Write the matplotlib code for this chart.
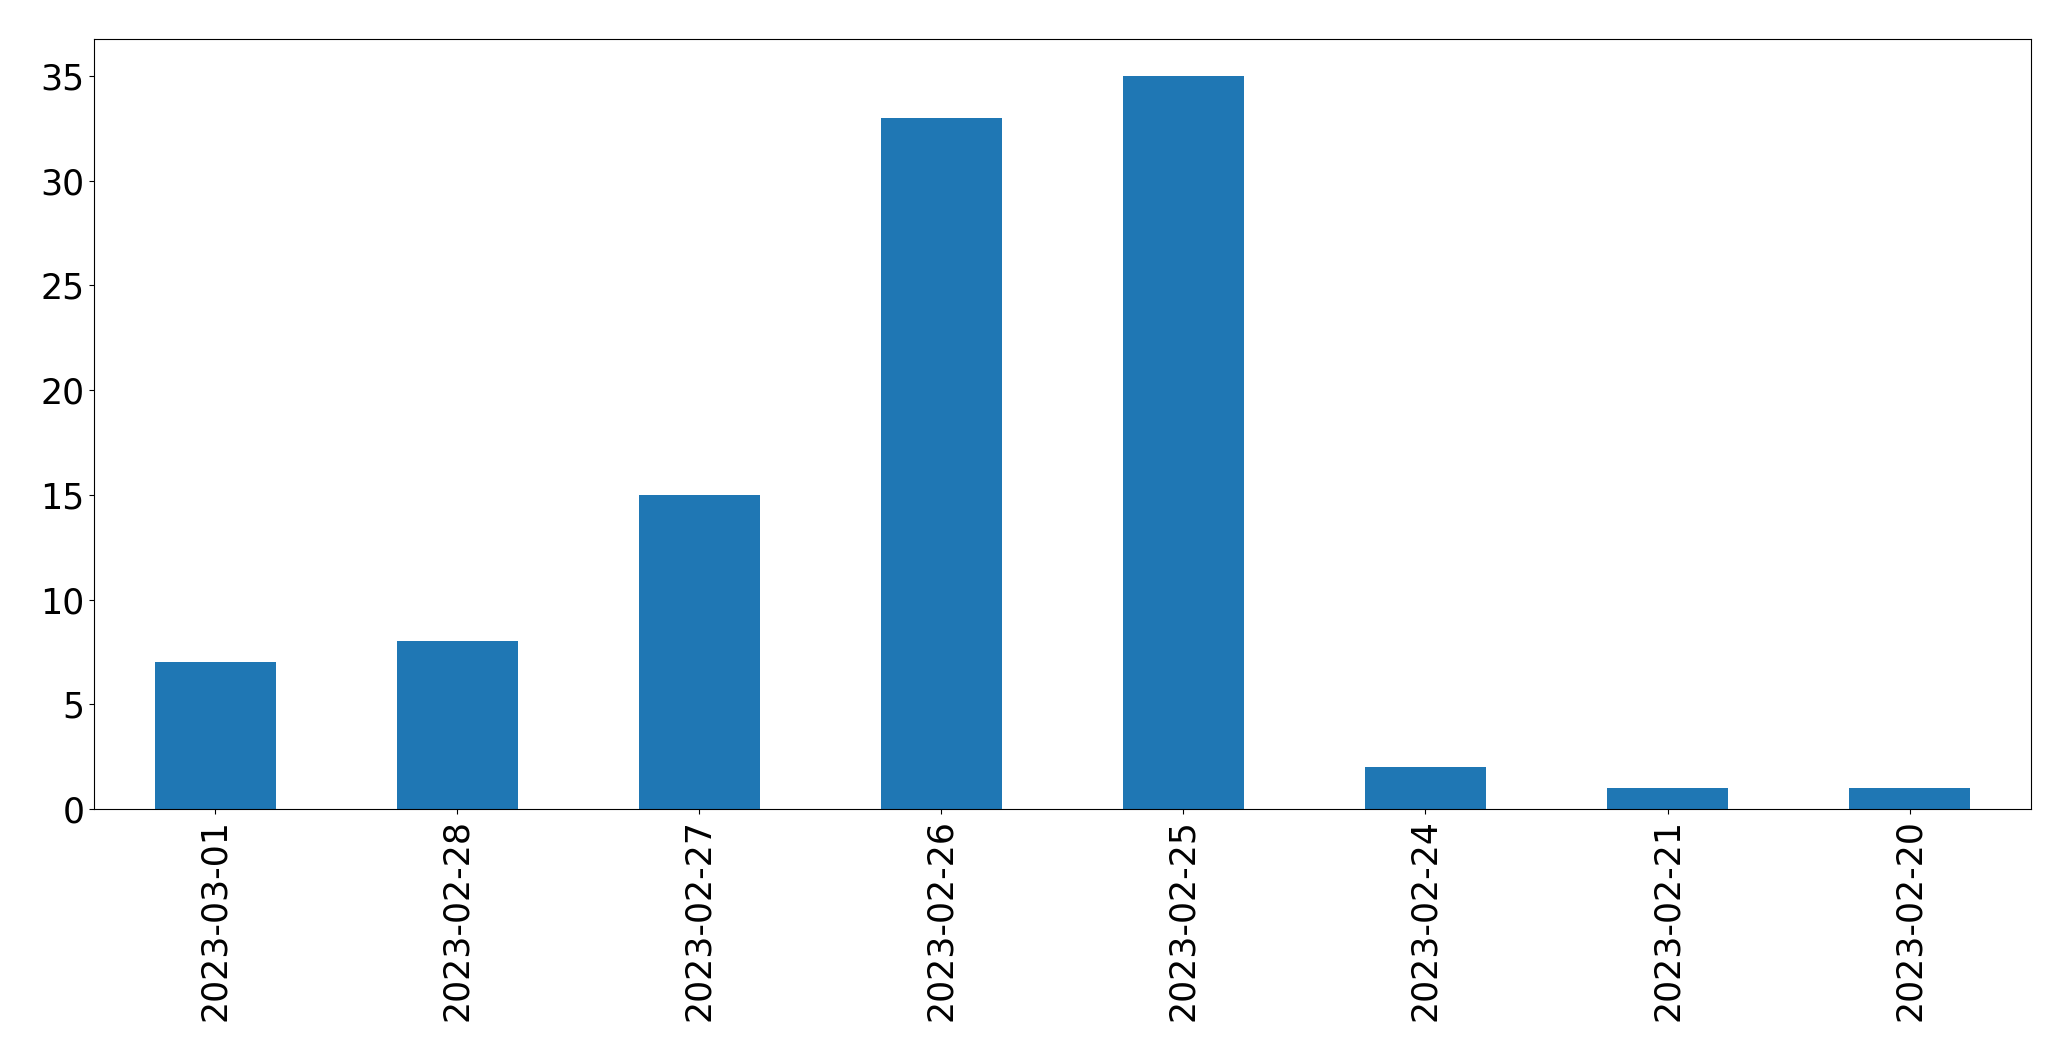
import matplotlib
matplotlib.use("Agg")
import matplotlib.pyplot as plt
import pandas as pd

dates = ["2023-03-01", "2023-02-28", "2023-02-27", "2023-02-26",
         "2023-02-25", "2023-02-24", "2023-02-21", "2023-02-20"]
counts = [7, 8, 15, 33, 35, 2, 1, 1]

s = pd.Series(counts, index=dates)

fig = plt.figure(figsize=(20.71, 10.61), dpi=100)
ax = fig.add_axes([0.0455, 0.2375, 0.935, 0.7255])
s.plot(kind="bar", ax=ax, color="#1f77b4", width=0.5)
ax.tick_params(axis="both", labelsize=25)
ax.set_yticks([0, 5, 10, 15, 20, 25, 30, 35])
fig.savefig("out.png", dpi=100)
